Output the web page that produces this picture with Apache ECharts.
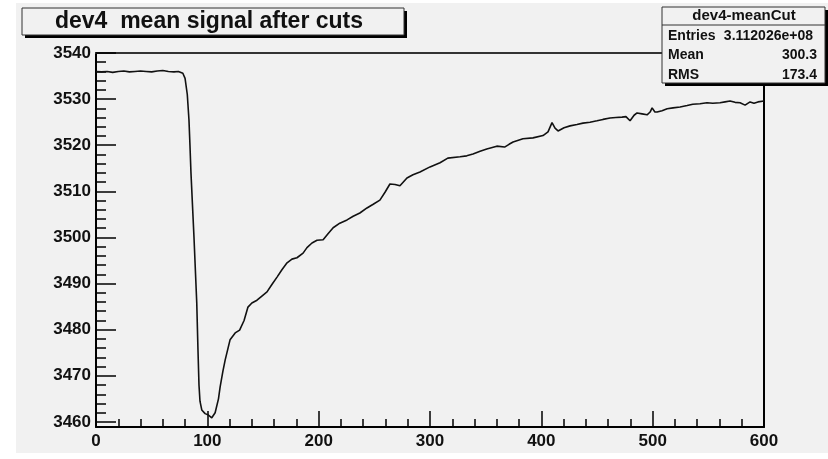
<!DOCTYPE html>
<html>
<head>
<meta charset="utf-8">
<script src="https://cdn.jsdelivr.net/npm/echarts@6/dist/echarts.min.js"></script>
<style>html,body{margin:0;padding:0;background:#fff;}#c{width:828px;height:459px;}</style>
</head>
<body>
<div id="c"></div>
<script>
// ---- data ----
const titleText = 'dev4  mean signal after cuts';
const statsName = 'dev4-meanCut';
const statsRows = [['Entries', '3.112026e+08'], ['Mean', '300.3'], ['RMS', '173.4']];
const xTickValues = [0, 100, 200, 300, 400, 500, 600];
const yTickValues = [3460, 3470, 3480, 3490, 3500, 3510, 3520, 3530, 3540];
const xs = [0, 5, 10, 15, 20, 25, 30, 35, 40, 45, 50, 55, 60, 65, 70, 74, 78, 80, 82, 83.5, 84.4, 85.3, 88, 90.5, 91.6, 92.5, 93.4, 95, 98, 101, 104, 107, 110, 111.5, 114, 116, 118.6, 120.4, 125, 129, 133, 136.5, 140, 144.6, 149, 153.6, 158, 162.6, 167, 171.6, 176, 180.5, 186, 189.5, 194, 198.5, 204, 208.4, 213, 219, 225.5, 231, 237, 243.4, 249, 255, 259.6, 264, 268.6, 273, 279.3, 284.7, 291, 300, 309, 316, 327, 333, 338.6, 345, 351, 360, 367, 371, 374.6, 383.5, 392.5, 401.5, 406, 409.6, 412.3, 415, 420.4, 425.8, 432, 437.4, 443.7, 450, 455.4, 461.7, 467, 472.5, 476, 479.7, 483.3, 486, 490.5, 495, 497.7, 499.5, 502, 504, 508.4, 513, 518.3, 524.6, 531, 536, 542.5, 548.8, 554, 560.5, 565, 569.5, 574, 578.5, 583, 587.5, 591, 594.6, 600];
const ys = [3536.0, 3535.9, 3536.0, 3535.8, 3536.0, 3536.1, 3535.9, 3536.0, 3536.1, 3536.0, 3535.9, 3536.1, 3536.2, 3536.0, 3535.9, 3536.0, 3535.6, 3534.5, 3531.0, 3525.5, 3520.0, 3514.0, 3500.1, 3485.8, 3475.6, 3468.0, 3464.5, 3462.6, 3461.8, 3461.5, 3460.9, 3462.0, 3465.0, 3467.6, 3471.0, 3473.4, 3476.0, 3477.8, 3479.3, 3479.9, 3482.0, 3484.9, 3485.8, 3486.4, 3487.3, 3488.2, 3489.8, 3491.4, 3493.0, 3494.5, 3495.3, 3495.6, 3496.6, 3497.8, 3498.8, 3499.4, 3499.5, 3500.8, 3502.1, 3503.1, 3503.8, 3504.6, 3505.3, 3506.4, 3507.2, 3508.1, 3509.8, 3511.6, 3511.5, 3511.2, 3512.9, 3513.6, 3514.2, 3515.3, 3516.2, 3517.2, 3517.5, 3517.7, 3518.1, 3518.7, 3519.2, 3519.8, 3519.6, 3520.2, 3520.7, 3521.4, 3521.6, 3522.1, 3522.9, 3524.9, 3523.7, 3523.1, 3523.8, 3524.2, 3524.5, 3524.8, 3525.0, 3525.3, 3525.6, 3525.9, 3526.0, 3526.1, 3526.2, 3525.3, 3526.5, 3527.0, 3526.8, 3526.6, 3527.2, 3528.1, 3527.2, 3527.2, 3527.5, 3527.9, 3528.1, 3528.3, 3528.6, 3528.9, 3529.0, 3529.2, 3529.1, 3529.2, 3529.4, 3529.6, 3529.3, 3529.2, 3528.7, 3529.4, 3529.1, 3529.4, 3529.6];

// ---- chart ----
const yMin = 3458.9, yMax = 3540;
const yMinorTicks = [];
for (let v = 3460; v <= 3540; v += 2) yMinorTicks.push(v);
const lineData = xs.map((x, i) => [x, ys[i]]);
const FONT = '"Liberation Sans", Arial, Helvetica, sans-serif';
const frameColor = '#333';

const chart = echarts.init(document.getElementById('c'), null, {renderer: 'canvas'});
const option = {
  backgroundColor: '#ffffff',
  animation: false,
  grid: {left: 96, right: 64, top: 53, bottom: 32},
  xAxis: [
    {
      type: 'value', min: 0, max: 600, interval: 100, position: 'bottom',
      axisLine: {show: true, onZero: false, lineStyle: {color: '#000', width: 2}},
      axisTick: {show: true, inside: true, length: 16, lineStyle: {color: '#000', width: 1.5}},
      minorTick: {show: true, splitNumber: 5, length: 8, lineStyle: {color: '#000', width: 1.5}},
      axisLabel: {color: '#111', fontFamily: FONT, fontWeight: 'bold', fontSize: 17, margin: 6,
        customValues: xTickValues, formatter: v => String(v)},
      splitLine: {show: false}
    },
    {
      type: 'value', min: 0, max: 600, position: 'top',
      axisLine: {show: true, onZero: false, lineStyle: {color: frameColor, width: 2}},
      axisTick: {show: false}, axisLabel: {show: false}, splitLine: {show: false}
    }
  ],
  yAxis: [
    {
      type: 'value', min: yMin, max: yMax, position: 'left',
      axisLine: {show: true, onZero: false, lineStyle: {color: '#000', width: 2}},
      axisTick: {show: true, inside: true, length: 20, customValues: yTickValues, lineStyle: {color: '#000', width: 1.5}},
      axisLabel: {color: '#111', fontFamily: FONT, fontWeight: 'bold', fontSize: 17, margin: 5,
        customValues: yTickValues, formatter: v => String(v)},
      splitLine: {show: false}
    },
    {
      type: 'value', min: yMin, max: yMax, position: 'left',
      axisLine: {show: false},
      axisTick: {show: true, inside: true, length: 10, customValues: yMinorTicks, lineStyle: {color: '#000', width: 1.5}},
      axisLabel: {show: false}, splitLine: {show: false}
    },
    {
      type: 'value', min: yMin, max: yMax, position: 'right',
      axisLine: {show: true, onZero: false, lineStyle: {color: '#000', width: 2}},
      axisTick: {show: false}, axisLabel: {show: false}, splitLine: {show: false}
    }
  ],
  series: [{
    type: 'line', data: lineData, xAxisIndex: 0, yAxisIndex: 0,
    showSymbol: false, symbol: 'none', smooth: false,
    lineStyle: {color: '#111', width: 1.6}, z: 3
  }],
  graphic: [
    {type: 'rect', z: -10, silent: true, shape: {x: 16, y: 3, width: 812, height: 450}, style: {fill: '#f1f1f1'}},
    // title box
    {type: 'rect', z: 10, shape: {x: 25, y: 11, width: 382, height: 27}, style: {fill: '#000'}},
    {type: 'rect', z: 11, shape: {x: 22, y: 8, width: 382, height: 27}, style: {fill: '#f1f1f1', stroke: '#333', lineWidth: 1}},
    {type: 'text', z: 12, style: {x: 209, y: 22, text: titleText, align: 'center', verticalAlign: 'middle',
      fill: '#111', font: 'bold 23px ' + FONT}},
    // stats box
    {type: 'rect', z: 10, shape: {x: 665, y: 10, width: 163, height: 76}, style: {fill: '#000'}},
    {type: 'rect', z: 11, shape: {x: 662, y: 7, width: 163, height: 76}, style: {fill: '#f1f1f1', stroke: '#333', lineWidth: 1}},
    {type: 'line', z: 12, shape: {x1: 662, y1: 25, x2: 825, y2: 25}, style: {stroke: '#333', lineWidth: 1}},
    {type: 'text', z: 12, style: {x: 744, y: 16, text: statsName, align: 'center', verticalAlign: 'middle',
      fill: '#111', font: 'bold 15px ' + FONT}},
    ...statsRows.flatMap((r, i) => [
      {type: 'text', z: 12, style: {x: 668, y: 36 + i * 19.5, text: r[0], align: 'left', verticalAlign: 'middle',
        fill: '#111', font: 'bold 14px ' + FONT}},
      {type: 'text', z: 12, style: {x: i === 0 ? 813 : 817, y: 36 + i * 19.5, text: r[1], align: 'right', verticalAlign: 'middle',
        fill: '#111', font: 'bold 14px ' + FONT}}
    ])
  ]
};
chart.setOption(option);
</script>
</body>
</html>
